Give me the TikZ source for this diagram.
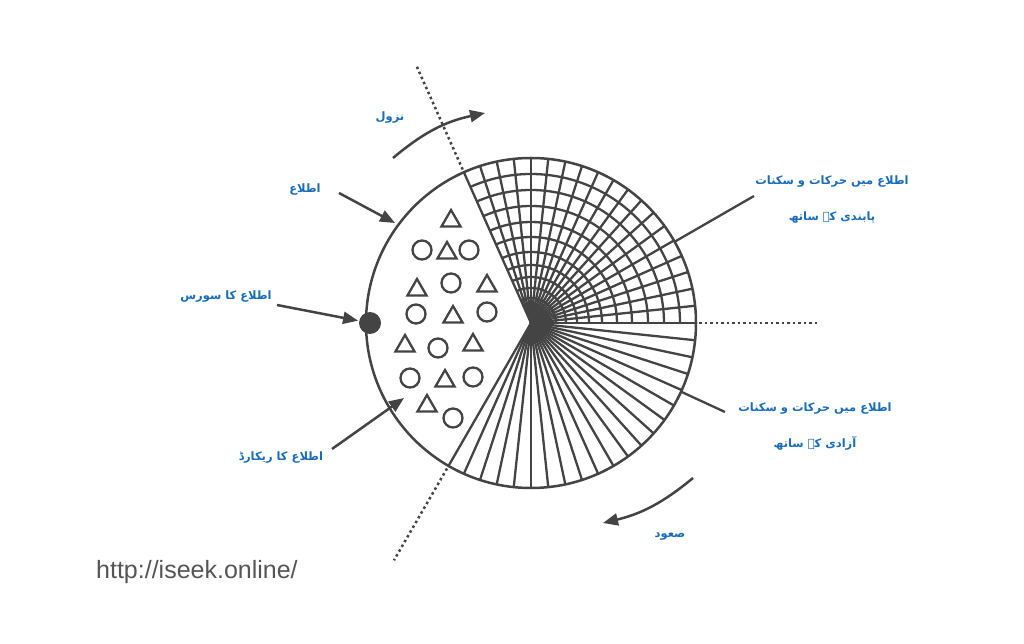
\documentclass[tikz,border=0pt]{standalone}
\usepackage{fontspec}
\setmainfont{Liberation Sans}
\newfontfamily\urdufont[Script=Arabic]{DejaVu Sans}
\TeXXeTstate=1
\usetikzlibrary{arrows.meta,shapes.geometric}
\definecolor{linegray}{RGB}{68,68,68}
\definecolor{urdublue}{RGB}{24,108,186}
\definecolor{urlgray}{RGB}{85,85,85}
\newcommand{\urtext}[1]{\beginR #1\endR}

\begin{document}
\begin{tikzpicture}[x=1pt, y=1pt, line width=2.3pt, color=linegray,
  urdu/.style={text=urdublue, font=\urdufont\bfseries\fontsize{11.5}{36}\selectfont, align=center},
  tri/.style={draw, regular polygon, regular polygon sides=3, minimum size=22pt, inner sep=0pt},
  hollow/.style={draw, circle, minimum size=19pt, inner sep=0pt},
  pointer/.style={-{Triangle[length=15pt,width=12pt]}, line width=2.5pt},
  dotline/.style={dash pattern=on 2.5pt off 3pt, line width=2.5pt}]

  \useasboundingbox (0,0) rectangle (1024,643);
  \coordinate (hub) at (531,320);

  % grid with rings in the upper part
  \foreach \a in {0,6,...,114} \draw (hub) -- ++(\a:165);
  \foreach \r in {25,35,46,58,71,86,101,117,133,149}
    \draw ([shift={(0:\r)}]hub) arc[start angle=0, end angle=114, radius=\r];
  % free lines in the lower part
  \foreach \a in {0,-6,...,-120} \draw (hub) -- ++(\a:165);
  \draw[line width=2.5pt] (hub) circle[radius=165];

  \draw[dotline] ([shift={(114:168)}]hub) -- ([shift={(114:283)}]hub);
  \draw[dotline] ([shift={(240:168)}]hub) -- ([shift={(240:274)}]hub);
  \draw[dotline] ([shift={(0:168)}]hub) -- ([shift={(0:287)}]hub);

  % triangles and circles
  \foreach \x/\y [count=\i] in {451/422, 447/390, 417/353, 487/357, 453/326, 405/297, 473/298, 445/262, 427/237}
    \node[tri] (tri\i) at (\x,\y) {};
  \foreach \x/\y [count=\i] in {422/393, 469/393, 451/360, 416/329, 487/331, 438/295, 410/265, 473/266, 453/225}
    \node[hollow] (ring\i) at (\x,\y) {};
  \node[circle, fill, inner sep=0pt, minimum size=22pt] (src) at (370,320) {};

  \node[urdu] (descent) at (390,525) {\urtext{نزول}};
  \node[urdu] (info) at (305,453) {\urtext{اطلاع}};
  \node[urdu] (source) at (226,346) {\urtext{اطلاع کا سورس}};
  \node[urdu] (record) at (281,185) {\urtext{اطلاع کا ریکارڈ}};
  \node[urdu] (bound) at (832,443) {\urtext{اطلاع میں حرکات و سکنات}\\\urtext{پابندی کے ساتھ}};
  \node[urdu] (free) at (815,216) {\urtext{اطلاع میں حرکات و سکنات}\\\urtext{آزادی کے ساتھ}};
  \node[urdu] (ascent) at (670,106) {\urtext{صعود}};
  \node[text=urlgray, font=\fontsize{25}{30}\selectfont, anchor=west, inner sep=0pt] (url) at (95,71) {http://iseek.online/};

  \coordinate (descent tail) at (393,485);
  \coordinate (descent tip) at (485,530);
  \coordinate (ascent tail) at (693,165);
  \coordinate (ascent tip) at (603,120);
  \draw[pointer] (descent tail) to[bend left=14] (descent tip);
  \draw[pointer] (ascent tail) to[bend left=13] (ascent tip);

  \coordinate (info tail) at (339,450);
  \coordinate (info tip) at (395,420);
  \coordinate (source tail) at (277,338);
  \coordinate (record tail) at (332,194);
  \coordinate (record tip) at (404,245);
  \draw[pointer] (info tail) -- (info tip);
  \draw[pointer] (source tail) -- (src);
  \draw[pointer] (record tail) -- (record tip);

  \coordinate (bound end) at (754,447);
  \coordinate (free end) at (725,231);
  \draw ([shift={(29.5:165)}]hub) -- (bound end);
  \draw ([shift={(-24.6:165)}]hub) -- (free end);
\end{tikzpicture}
\end{document}
